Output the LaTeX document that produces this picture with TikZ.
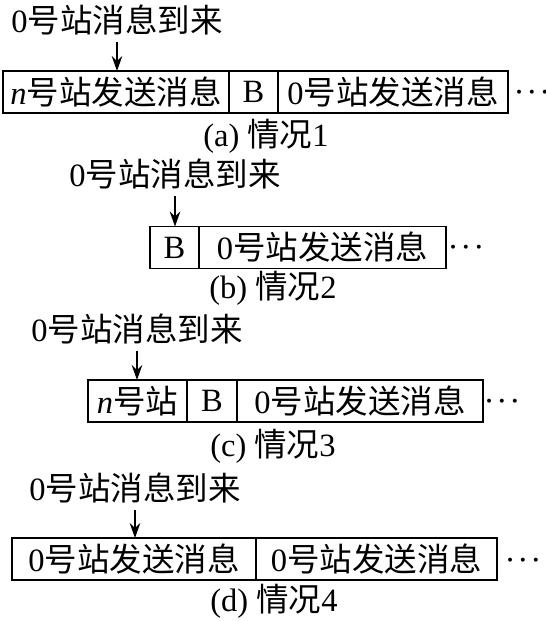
\documentclass[tikz,border=0pt]{standalone}
\usepackage{fontspec}
\setmainfont{Liberation Serif}
\newfontfamily\cjk{Noto Sans CJK SC}
\usetikzlibrary{positioning, arrows.meta}
\newcommand{\zh}[1]{{\cjk #1}}

\begin{document}
\begin{tikzpicture}[x=0.02cm, y=-0.02cm,
    cell/.style={draw, line width=1.1pt, minimum height=0.84cm, inner sep=0pt,
                 outer sep=0pt, font=\fontsize{18.5pt}{22pt}\selectfont},
    txt/.style={font=\fontsize{18.5pt}{22pt}\selectfont, inner sep=2pt},
    more/.style={font=\fontsize{14pt}{16pt}\selectfont\boldmath, inner sep=0pt},
    arr/.style={-{Stealth[length=8.5pt, width=6pt]}, line width=0.9pt,
                shorten <=2pt},
    node distance=0pt
  ]
  \useasboundingbox (0,0) rectangle (546,621);

  % (a) situation 1
  \node[txt] (lblA) at (117,20) {0\zh{号站消息到来}};
  \node[cell, minimum width=4.52cm, anchor=west] (a1) at (3,92) {\textit{n}\zh{号站发送消息}};
  \node[cell, minimum width=0.98cm, right=of a1] (a2) {B};
  \node[cell, minimum width=4.60cm, right=of a2] (a3) {0\zh{号站发送消息}};
  \node[more] (dotsA) at (532,93) {$\cdots$};
  \node[txt] (capA) at (266,136) {(a) \zh{情况}1};
  \draw[arr] (lblA.south) -- (lblA.south |- a1.north);

  % (b) situation 2
  \node[txt] (lblB) at (175,174) {0\zh{号站消息到来}};
  \node[cell, minimum width=0.98cm, anchor=west] (b1) at (150,247.5) {B};
  \node[cell, minimum width=4.94cm, right=of b1] (b2) {0\zh{号站发送消息}};
  \node[more] (dotsB) at (466,248) {$\cdots$};
  \node[txt] (capB) at (273,288) {(b) \zh{情况}2};
  \draw[arr] (lblB.south) -- (lblB.south |- b1.north);

  % (c) situation 3
  \node[txt] (lblC) at (137,329) {0\zh{号站消息到来}};
  \node[cell, minimum width=1.98cm, anchor=west] (c1) at (88,401) {\textit{n}\zh{号站}};
  \node[cell, minimum width=1.00cm, right=of c1] (c2) {B};
  \node[cell, minimum width=4.92cm, right=of c2] (c3) {0\zh{号站发送消息}};
  \node[more] (dotsC) at (502,402) {$\cdots$};
  \node[txt] (capC) at (273,446) {(c) \zh{情况}3};
  \draw[arr] (lblC.south) -- (lblC.south |- c1.north);

  % (d) situation 4
  \node[txt] (lblD) at (135,488) {0\zh{号站消息到来}};
  \node[cell, minimum width=4.88cm, anchor=west] (d1) at (12,559) {0\zh{号站发送消息}};
  \node[cell, minimum width=4.82cm, right=of d1] (d2) {0\zh{号站发送消息}};
  \node[more] (dotsD) at (523,561) {$\cdots$};
  \node[txt] (capD) at (274,601) {(d) \zh{情况}4};
  \draw[arr] (lblD.south) -- (lblD.south |- d1.north);
\end{tikzpicture}
\end{document}
